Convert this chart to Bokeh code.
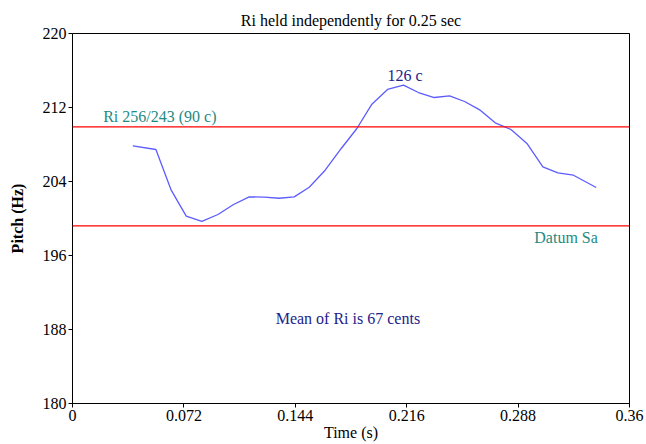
from bokeh.plotting import figure
from bokeh.models import Span, Label, FixedTicker, NumeralTickFormatter, Range1d
from bokeh.embed import file_html
from bokeh.resources import INLINE

# ---- data ----
time_s = [0.0390, 0.0539, 0.0638, 0.0735, 0.0836, 0.0940, 0.1041, 0.1142,
          0.1238, 0.1336, 0.1433, 0.1530, 0.1633, 0.1737, 0.1838, 0.1935,
          0.2036, 0.2139, 0.2236, 0.2338, 0.2437, 0.2534, 0.2635, 0.2732,
          0.2834, 0.2937, 0.3040, 0.3137, 0.3238, 0.3385]
pitch_hz = [207.85, 207.46, 203.06, 200.25, 199.68, 200.43, 201.51, 202.34,
            202.30, 202.19, 202.34, 203.38, 205.22, 207.57, 209.73, 212.36,
            213.95, 214.41, 213.62, 213.08, 213.25, 212.65, 211.71, 210.34,
            209.62, 208.11, 205.58, 204.93, 204.68, 203.35]
ri_hz = 209.9
datum_hz = 199.2
x_ticks = [0, 0.072, 0.144, 0.216, 0.288, 0.36]
y_ticks = [180, 188, 196, 204, 212, 220]
title_text = "Ri held independently for 0.25 sec"
ri_text = "Ri 256/243 (90 c)"
peak_text = "126 c"
datum_text = "Datum Sa"
mean_text = "Mean of Ri is 67 cents"
x_label = "Time (s)"
y_label = "Pitch (Hz)"

FONT = "'Liberation Serif', 'Times New Roman', serif"
TEAL = "#1f8a82"
NAVY = "#22228a"

p = figure(width=646, height=444, output_backend="svg", toolbar_location=None,
           title=title_text,
           x_range=Range1d(0, 0.36), y_range=Range1d(180, 220),
           min_border_left=72, min_border_right=17,
           min_border_top=33, min_border_bottom=41)
p.title.align = "center"
p.title.text_font = FONT
p.title.text_font_size = "16px"
p.title.text_font_style = "normal"
p.title.text_color = "black"
p.title.standoff = 10
p.title.offset = 0

p.background_fill_color = "white"
p.border_fill_color = "white"
p.outline_line_color = "black"
p.outline_line_width = 1
p.grid.visible = False

for ax in (p.xaxis[0], p.yaxis[0]):
    ax.axis_line_color = "black"
    ax.major_tick_in = 0
    ax.major_tick_out = 4
    ax.minor_tick_line_color = None
    ax.major_label_text_font = FONT
    ax.major_label_text_font_size = "16px"
    ax.major_label_text_color = "black"
    ax.axis_label_text_font = FONT
    ax.axis_label_text_font_size = "16px"
    ax.axis_label_text_color = "black"

p.xaxis.ticker = FixedTicker(ticks=x_ticks)
p.xaxis.formatter = NumeralTickFormatter(format="0.[000]")
p.xaxis.axis_label = x_label
p.xaxis.axis_label_text_font_style = "normal"
p.xaxis.major_label_standoff = 2
p.xaxis.axis_label_standoff = 0

p.yaxis.ticker = FixedTicker(ticks=y_ticks)
p.yaxis.axis_label = y_label
p.yaxis.axis_label_text_font_style = "bold"
p.yaxis.major_label_standoff = 2
p.yaxis.axis_label_standoff = 14

p.add_layout(Span(location=ri_hz, dimension="width", line_color="red", line_width=1.2))
p.add_layout(Span(location=datum_hz, dimension="width", line_color="red", line_width=1.2))

p.line(time_s, pitch_hz, line_color="#5c5cff", line_width=1.3)

def lab(x, y, text, color, align="center", size="16px"):
    p.add_layout(Label(x=x, y=y, text=text, text_color=color, text_font=FONT,
                       text_font_size=size, text_align=align,
                       text_baseline="middle"))

lab(0.0198, 211.05, ri_text, TEAL, align="left")
lab(0.215, 215.5, peak_text, NAVY)
lab(0.319, 197.9, datum_text, TEAL)
lab(0.178, 189.2, mean_text, NAVY)

open("out.html", "w").write(file_html(p, INLINE))
